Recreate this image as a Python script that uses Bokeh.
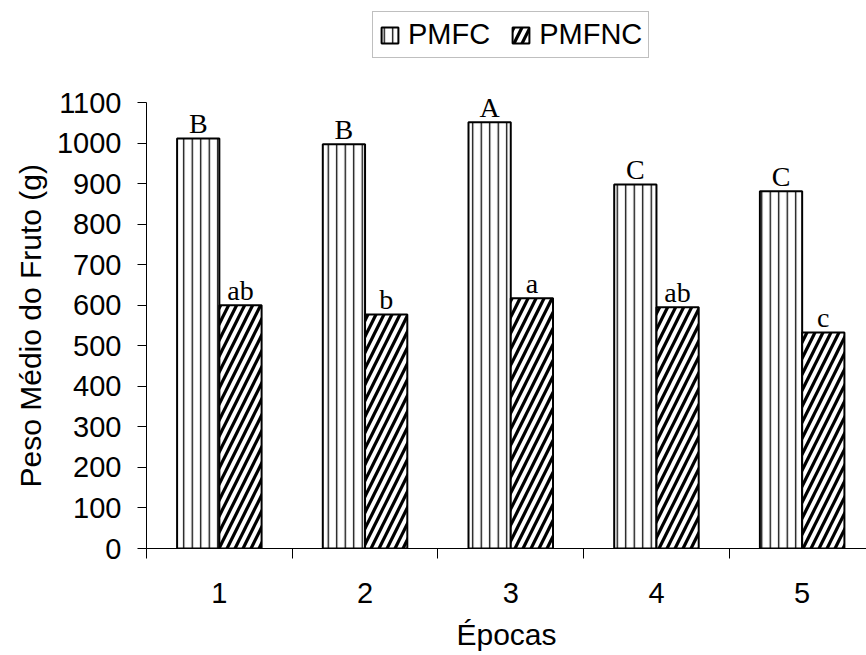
from bokeh.plotting import figure
from bokeh.models import (ColumnDataSource, Range1d, FixedTicker, Legend, LegendItem, Title)
from bokeh.transform import dodge
from bokeh.core.properties import value
from bokeh.embed import file_html
from bokeh.resources import INLINE

# ---- data ----
epocas = [1, 2, 3, 4, 5]
epoca_labels = ["1", "2", "3", "4", "5"]
pmfc = [1011, 997, 1051, 898, 881]
pmfnc = [600, 577, 617, 595, 533]
letras_pmfc = ["B", "B", "A", "C", "C"]
letras_pmfnc = ["ab", "b", "a", "ab", "c"]
y_ticks = [0, 100, 200, 300, 400, 500, 600, 700, 800, 900, 1000, 1100]
series_names = ["PMFC", "PMFNC"]
y_title = "Peso Médio do Fruto (g)"
x_title = "Épocas"

src = ColumnDataSource(dict(x=epocas, pmfc=pmfc, pmfnc=pmfnc,
                            lab_c=letras_pmfc, lab_nc=letras_pmfnc))

W, H = 866, 655
y_max = 1100
y_top = y_max * 548 / 446  # frame reaches the top edge; axis stops at 1100
p = figure(width=W, height=H, output_backend="svg", toolbar_location=None,
           x_range=Range1d(0.5, 5.4416), y_range=Range1d(0, y_top),
           min_border_left=146, min_border_right=0,
           min_border_top=0, min_border_bottom=107)
p.outline_line_color = None
p.grid.visible = False
p.background_fill_color = "white"
p.border_fill_color = "white"

bw = 0.29
off = 0.145
r1 = p.vbar(x=dodge("x", -off), top="pmfc", width=bw, source=src,
            fill_color="white", line_color="black", line_width=2,
            hatch_pattern="vertical_line", hatch_color="black",
            hatch_scale=8.5, hatch_weight=1.3)
r2 = p.vbar(x=dodge("x", off), top="pmfnc", width=bw, source=src,
            fill_color="white", line_color="black", line_width=2,
            hatch_pattern="right_diagonal_line", hatch_color="black",
            hatch_scale=16, hatch_weight=3.2)

p.text(x=dodge("x", -off), y="pmfc", text="lab_c", source=src,
       text_align="center", text_baseline="middle", y_offset=-15,
       text_font=value("Liberation Serif"), text_font_size="28px",
       text_color="black")
p.text(x=dodge("x", off), y="pmfnc", text="lab_nc", source=src,
       text_align="center", text_baseline="middle", y_offset=-15,
       text_font=value("Liberation Serif"), text_font_size="28px",
       text_color="black")

# axes
xa = p.xaxis[0]
xa.ticker = FixedTicker(ticks=epocas, minor_ticks=[e - 0.5 for e in epocas] + [5.5])
xa.major_label_overrides = {e: l for e, l in zip(epocas, epoca_labels)}
xa.major_tick_out = 0
xa.major_tick_in = 0
xa.minor_tick_out = 10
xa.minor_tick_in = 0
xa.minor_tick_line_color = "black"
xa.axis_line_color = "black"
xa.major_label_standoff = 24
xa.major_label_text_font = "Liberation Sans"
xa.major_label_text_font_size = "29px"
xa.major_label_text_color = "black"
xa.axis_label = x_title
xa.axis_label_text_font = "Liberation Sans"
xa.axis_label_text_font_size = "30px"
xa.axis_label_text_font_style = "normal"
xa.axis_label_text_color = "black"
xa.axis_label_standoff = 12

ya = p.yaxis[0]
ya.ticker = FixedTicker(ticks=y_ticks, minor_ticks=[])
ya.bounds = (0, y_max)
ya.major_tick_out = 9
ya.major_tick_in = 0
ya.major_tick_line_color = "black"
ya.axis_line_color = "black"
ya.major_label_standoff = 16
ya.major_label_text_font = "Liberation Sans"
ya.major_label_text_font_size = "29px"
ya.major_label_text_color = "black"

# y title, aligned to the 0..1100 axis span rather than the whole frame
yt = Title(text=y_title, align="left", offset=61,
           text_font="Liberation Sans", text_font_size="30px",
           text_font_style="normal", text_color="black", standoff=14)
p.add_layout(yt, "left")

legend = Legend(items=[LegendItem(label=series_names[0], renderers=[r1]),
                       LegendItem(label=series_names[1], renderers=[r2])],
                orientation="horizontal", location=(226, 490))
legend.label_text_font = "Liberation Sans"
legend.label_text_font_size = "29px"
legend.label_text_color = "black"
legend.glyph_width = 21
legend.glyph_height = 20
legend.label_standoff = 8
legend.spacing = 20
legend.padding = 6
legend.margin = 0
legend.border_line_color = "#808080"
legend.border_line_width = 1
legend.background_fill_color = "white"
legend.background_fill_alpha = 1
p.add_layout(legend)

open("out.html", "w").write(file_html(p, INLINE))
